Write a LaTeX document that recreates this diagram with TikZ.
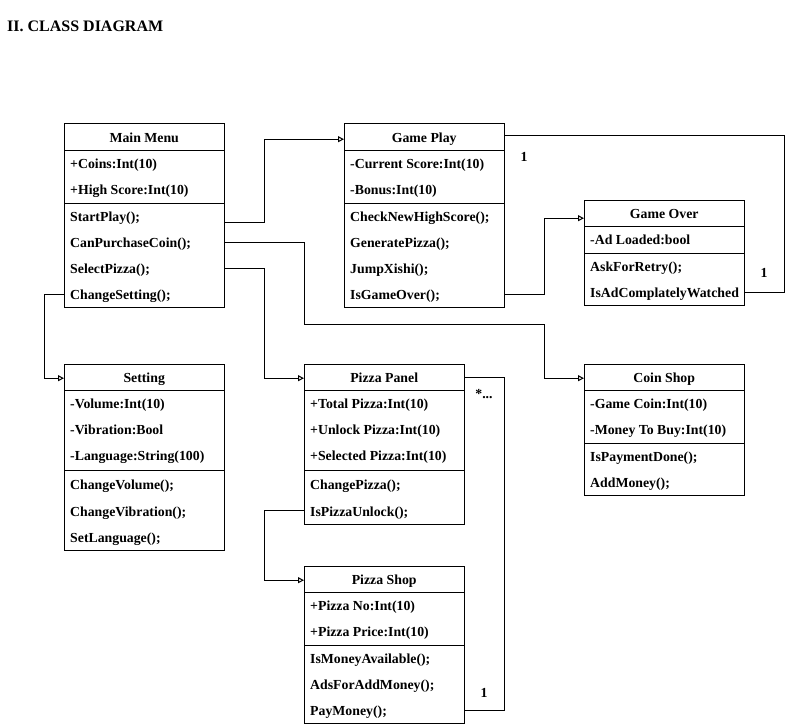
\documentclass[tikz,border=0pt]{standalone}
\usepackage{fontspec}
\setmainfont{Liberation Serif}
\usetikzlibrary{arrows.meta}
\begin{document}
\begin{tikzpicture}[x=1pt,y=-1pt,
  hdr/.style={anchor=north west,minimum width=160pt,minimum height=26pt,inner sep=0pt,text height=13pt,text depth=2pt,font=\bfseries\fontsize{13.8}{16}\selectfont},
  row/.style={anchor=north west,minimum width=160pt,inner xsep=6pt,inner ysep=0pt,minimum height=26pt,text height=13pt,text depth=2pt,font=\bfseries\fontsize{13.8}{16}\selectfont},
  tallrow/.style={row,minimum height=27pt},
  lbl/.style={font=\bfseries\fontsize{13.8}{16}\selectfont,inner sep=0pt},
  gen/.style={draw=black,line width=1pt,-{Triangle[open,length=6pt,width=6pt]}},
  plain/.style={draw=black,line width=1pt},
  boxline/.style={draw=black,line width=1pt}]
\useasboundingbox (0,0) rectangle (788,725);
\newcommand\umlbox[2]{%
  \draw[boxline] (#1.north west) rectangle (#1-m#2.south east);
  \draw[boxline] (#1.south west) -- (#1.south east);
  \draw[boxline] (#1-m1.north west) -- (#1-m1.north east);}
\newcommand\rt[1]{\makebox[148pt][l]{#1}}

\node[anchor=west,font=\bfseries\fontsize{16}{19}\selectfont,inner sep=0pt] (title) at (7,26) {II. CLASS DIAGRAM};

% Main Menu
\node[hdr] (mm) at (64,124) {Main Menu};
\node[row] (mm-a1) at (64,150) {\rt{+Coins:Int(10)}};
\node[row] (mm-a2) at (64,176) {\rt{+High Score:Int(10)}};
\node[row] (mm-m1) at (64,203) {\rt{StartPlay();}};
\node[row] (mm-m2) at (64,229) {\rt{CanPurchaseCoin();}};
\node[row] (mm-m3) at (64,255) {\rt{SelectPizza();}};
\node[row] (mm-m4) at (64,281) {\rt{ChangeSetting();}};
\umlbox{mm}{4}

% Game Play
\node[hdr] (gp) at (344,124) {Game Play};
\node[row] (gp-a1) at (344,150) {\rt{-Current Score:Int(10)}};
\node[row] (gp-a2) at (344,176) {\rt{-Bonus:Int(10)}};
\node[row] (gp-m1) at (344,203) {\rt{CheckNewHighScore();}};
\node[row] (gp-m2) at (344,229) {\rt{GeneratePizza();}};
\node[row] (gp-m3) at (344,255) {\rt{JumpXishi();}};
\node[row] (gp-m4) at (344,281) {\rt{IsGameOver();}};
\umlbox{gp}{4}

% Game Over
\node[hdr] (go) at (584,200) {Game Over};
\node[row] (go-a1) at (584,226) {\rt{-Ad Loaded:bool}};
\node[row] (go-m1) at (584,253) {\rt{AskForRetry();}};
\node[row] (go-m2) at (584,279) {\rt{IsAdComplatelyWatched}};
\umlbox{go}{2}

% Setting
\node[hdr] (st) at (64,364) {Setting};
\node[row] (st-a1) at (64,390) {\rt{-Volume:Int(10)}};
\node[row] (st-a2) at (64,416) {\rt{-Vibration:Bool}};
\node[row] (st-a3) at (64,442) {\rt{-Language:String(100)}};
\node[tallrow] (st-m1) at (64,470) {\rt{ChangeVolume();}};
\node[tallrow] (st-m2) at (64,497) {\rt{ChangeVibration();}};
\node[tallrow] (st-m3) at (64,523) {\rt{SetLanguage();}};
\umlbox{st}{3}

% Pizza Panel
\node[hdr] (pp) at (304,364) {Pizza Panel};
\node[row] (pp-a1) at (304,390) {\rt{+Total Pizza:Int(10)}};
\node[row] (pp-a2) at (304,416) {\rt{+Unlock Pizza:Int(10)}};
\node[row] (pp-a3) at (304,442) {\rt{+Selected Pizza:Int(10)}};
\node[tallrow] (pp-m1) at (304,470) {\rt{ChangePizza();}};
\node[tallrow] (pp-m2) at (304,497) {\rt{IsPizzaUnlock();}};
\umlbox{pp}{2}

% Coin Shop
\node[hdr] (cs) at (584,364) {Coin Shop};
\node[row] (cs-a1) at (584,390) {\rt{-Game Coin:Int(10)}};
\node[row] (cs-a2) at (584,416) {\rt{-Money To Buy:Int(10)}};
\node[row] (cs-m1) at (584,443) {\rt{IsPaymentDone();}};
\node[row] (cs-m2) at (584,469) {\rt{AddMoney();}};
\umlbox{cs}{2}

% Pizza Shop
\node[hdr] (ps) at (304,566) {Pizza Shop};
\node[row] (ps-a1) at (304,592) {\rt{+Pizza No:Int(10)}};
\node[row] (ps-a2) at (304,618) {\rt{+Pizza Price:Int(10)}};
\node[row] (ps-m1) at (304,645) {\rt{IsMoneyAvailable();}};
\node[row] (ps-m2) at (304,671) {\rt{AdsForAddMoney();}};
\node[row] (ps-m3) at (304,697) {\rt{PayMoney();}};
\umlbox{ps}{3}

% connectors
\draw[gen] ([yshift=-6pt]mm-m1.east) -- ++(40,0) |- ([yshift=-2pt]gp.west);
\draw[gen] (mm-m2.east) -- ++(80,0) -- ++(0,82) -| ([xshift=-40pt,yshift=-1pt]cs.west) -- ([yshift=-1pt]cs.west);
\draw[gen] (mm-m3.east) -- ++(40,0) |- ([yshift=-1pt]pp.west);
\draw[gen] (mm-m4.west) -- ++(-20,0) |- ([yshift=-1pt]st.west);
\draw[gen] (gp-m4.east) -- ++(40,0) |- ([yshift=-5pt]go.west);
\draw[plain] ([yshift=2pt]gp.east) -- ++(280,0) |- (go-m2.east);
\draw[plain] (pp.east) -- ++(40,0) |- (ps-m3.east);
\draw[gen] (pp-m2.west) -- ++(-40,0) |- ([yshift=-1pt]ps.west);

% multiplicities
\node[lbl] (l1) at (524,157) {1};
\node[lbl] (l2) at (764,273) {1};
\node[lbl] (l3) at (484,394) {*...};
\node[lbl] (l4) at (484,693) {1};
\end{tikzpicture}
\end{document}
